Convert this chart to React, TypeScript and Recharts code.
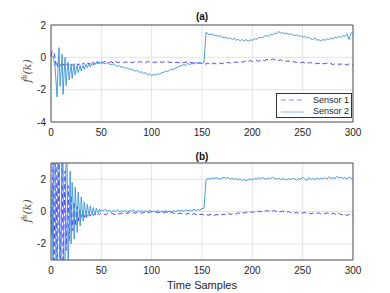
import React from 'react';
import { LineChart, Line, XAxis, YAxis, CartesianGrid, ReferenceArea, Legend } from 'recharts';

// sample indices: every sample for 0..50, every 2nd sample for 52..300
const K_HEAD = Array.from({ length: 51 }, (_, i) => i);
const K_TAIL = Array.from({ length: 125 }, (_, i) => 52 + 2 * i);
const K = [...K_HEAD, ...K_TAIL];

const X_TICKS = [0, 50, 100, 150, 200, 250, 300];
const Y_TICKS_A = [-4, -2, 0, 2];
const Y_TICKS_B = [-2, 0, 2];
const SERIES_NAMES = ['Sensor 1', 'Sensor 2'];

// (a) Sensor 1
const A1 = [
  0.1, 0.35, 0.4, 0.3, 0.0, -0.5, -0.3, -0.6, -0.4, -0.5,
  -0.45, -0.6, -0.4, -0.5, -0.45, -0.55, -0.4, -0.5, -0.45, -0.5,
  -0.4, -0.5, -0.45, -0.4, -0.5, -0.45, -0.4, -0.5, -0.4, -0.45,
  -0.4, -0.45, -0.35, -0.4, -0.45, -0.35, -0.4, -0.35, -0.45, -0.3,
  -0.4, -0.35, -0.3, -0.4, -0.3, -0.35, -0.25, -0.35, -0.3, -0.4, -0.3,
  -0.3, -0.25, -0.35, -0.3, -0.28, -0.35, -0.25, -0.32, -0.3, -0.27,
  -0.33, -0.28, -0.3, -0.25, -0.34, -0.3, -0.27, -0.32, -0.26, -0.3,
  -0.28, -0.33, -0.25, -0.3, -0.27, -0.33, -0.28, -0.3, -0.25, -0.32,
  -0.28, -0.3, -0.26, -0.33, -0.3, -0.28, -0.33, -0.3, -0.35, -0.3,
  -0.33, -0.28, -0.35, -0.3, -0.33, -0.36, -0.3, -0.35, -0.32, -0.4,
  -0.38, -0.42, -0.35, -0.45, -0.4, -0.35, -0.42, -0.38, -0.35, -0.4,
  -0.33, -0.38, -0.3, -0.36, -0.3, -0.33, -0.28, -0.32, -0.25, -0.3,
  -0.27, -0.22, -0.28, -0.2, -0.25, -0.22, -0.18, -0.24, -0.2, -0.15,
  -0.2, -0.15, -0.12, -0.18, -0.1, -0.15, -0.12, -0.2, -0.15, -0.22,
  -0.2, -0.25, -0.22, -0.3, -0.25, -0.28, -0.32, -0.27, -0.33, -0.3,
  -0.35, -0.3, -0.36, -0.32, -0.38, -0.35, -0.4, -0.36, -0.42, -0.38,
  -0.4, -0.36, -0.42, -0.38, -0.45, -0.4, -0.38, -0.44, -0.4, -0.46,
  -0.42, -0.48, -0.4, -0.47, -0.5,
];

// (a) Sensor 2
const A2 = [
  0.0, 0.05, 0.1, -0.2, -0.6, -1.5, -2.45, -0.5, 0.6, -1.8,
  -0.9, 0.2, -2.3, -1.0, 0.0, -1.75, -0.9, -0.3, -1.4, -0.9,
  -0.4, -1.3, -0.8, -0.45, -1.1, -0.75, -0.5, -0.95, -0.7, -0.5,
  -0.85, -0.6, -0.5, -0.75, -0.55, -0.45, -0.65, -0.5, -0.4, -0.6,
  -0.45, -0.4, -0.5, -0.35, -0.45, -0.3, -0.4, -0.3, -0.42, -0.32, -0.38,
  -0.35, -0.4, -0.33, -0.42, -0.45, -0.4, -0.5, -0.55, -0.52, -0.62,
  -0.6, -0.68, -0.65, -0.75, -0.72, -0.8, -0.85, -0.82, -0.92, -0.9,
  -1.0, -0.95, -1.08, -1.02, -1.15, -1.05, -1.1, -1.0, -1.05, -0.95,
  -0.92, -0.85, -0.88, -0.78, -0.72, -0.75, -0.65, -0.6, -0.55, -0.5,
  -0.45, -0.5, -0.38, -0.45, -0.35, -0.42, -0.32, -0.4, -0.35, -0.38,
  -0.3, 1.55, 1.45, 1.4, 1.45, 1.35, 1.38, 1.3, 1.33, 1.25,
  1.2, 1.25, 1.15, 1.2, 1.1, 1.18, 1.05, 1.12, 1.0, 1.1,
  1.02, 1.1, 1.0, 1.08, 1.05, 1.15, 1.12, 1.2, 1.25, 1.2,
  1.3, 1.35, 1.3, 1.42, 1.38, 1.5, 1.45, 1.6, 1.5, 1.55,
  1.45, 1.5, 1.42, 1.45, 1.4, 1.35, 1.38, 1.3, 1.35, 1.25,
  1.3, 1.2, 1.25, 1.15, 1.1, 1.2, 1.05, 1.1, 1.0, 1.1,
  1.05, 1.15, 1.1, 1.2, 1.12, 1.25, 1.2, 1.3, 1.22, 1.35,
  1.3, 1.45, 1.1, 1.5, 1.55,
];

// (b) Sensor 1
const B1 = [
  0.0, -1.5, 3.5, -4.0, 2.0, 4.0, -4.5, -1.0, 4.5, -4.0,
  -1.0, 3.5, -3.2, -0.5, 2.5, -2.4, -0.4, 1.6, -1.8, -0.3,
  1.0, -1.2, -0.2, 0.6, -0.9, -0.2, 0.3, -0.6, -0.2, 0.1,
  -0.45, -0.2, 0.0, -0.35, -0.2, -0.05, -0.3, -0.2, -0.1, -0.28,
  -0.18, -0.12, -0.25, -0.15, -0.2, -0.12, -0.22, -0.15, -0.2, -0.12, -0.18,
  -0.15, -0.2, -0.12, -0.18, -0.1, -0.16, -0.2, -0.12, -0.15, -0.1,
  -0.14, -0.08, -0.12, -0.05, -0.1, -0.06, -0.12, -0.04, -0.08, -0.1,
  -0.06, -0.02, -0.08, -0.04, 0.0, -0.06, -0.03, -0.08, -0.02, -0.05,
  -0.08, -0.03, -0.06, -0.1, -0.05, -0.12, -0.08, -0.14, -0.1, -0.15,
  -0.12, -0.18, -0.1, -0.16, -0.2, -0.12, -0.18, -0.14, -0.2, -0.15,
  -0.22, -0.16, -0.24, -0.18, -0.2, -0.26, -0.18, -0.22, -0.15, -0.2,
  -0.16, -0.22, -0.12, -0.18, -0.14, -0.1, -0.16, -0.08, -0.12, -0.06,
  -0.1, -0.04, -0.08, -0.02, -0.06, 0.0, -0.04, 0.02, -0.03, 0.04,
  0.0, 0.06, 0.02, 0.08, 0.03, 0.06, 0.0, 0.05, -0.02, 0.03,
  -0.03, -0.06, 0.0, -0.08, -0.04, -0.1, -0.05, -0.12, -0.08, -0.1,
  -0.06, -0.12, -0.08, -0.14, -0.1, -0.06, -0.12, -0.08, -0.15, -0.1,
  -0.14, -0.08, -0.12, -0.18, -0.1, -0.16, -0.2, -0.12, -0.18, -0.22,
  -0.15, -0.25, -0.18, -0.22, -0.28,
];

// (b) Sensor 2
const B2 = [
  0.0, 1.5, -4.0, 3.0, 4.0, -4.5, -3.0, 5.0, 4.0, -5.0,
  -3.0, 5.0, 3.0, -4.5, -3.5, 4.5, 3.0, -3.8, -1.0, 2.5,
  -2.0, 1.8, 0.5, -1.7, 1.5, 0.3, -1.3, 1.2, 0.2, -0.9,
  0.9, 0.15, -0.6, 0.6, 0.1, -0.4, 0.45, 0.05, -0.3, 0.35,
  0.0, -0.2, 0.25, 0.0, -0.15, 0.2, 0.0, -0.1, 0.15, 0.0, 0.1,
  0.05, 0.15, 0.0, 0.1, -0.05, 0.08, 0.0, 0.12, -0.03, 0.05,
  0.0, 0.08, -0.04, 0.06, 0.02, 0.1, -0.02, 0.05, 0.0, 0.07,
  -0.03, 0.05, 0.0, 0.08, -0.02, 0.04, 0.0, 0.06, -0.04, 0.03,
  0.0, 0.05, -0.02, 0.03, 0.0, 0.06, -0.03, 0.1, 0.02, 0.08,
  0.0, 0.12, 0.04, 0.1, 0.02, 0.15, 0.05, 0.12, 0.08, 0.18,
  0.2, 1.95, 2.05, 2.0, 2.08, 2.02, 2.1, 2.04, 2.0, 2.08,
  2.12, 2.05, 2.1, 2.0, 2.06, 1.98, 2.04, 1.95, 2.02, 1.92,
  1.98, 1.9, 1.96, 2.02, 1.95, 2.05, 2.0, 2.08, 2.02, 2.1,
  2.04, 2.0, 2.08, 2.02, 2.12, 2.05, 2.0, 2.06, 1.98, 2.04,
  2.0, 1.95, 2.02, 1.98, 2.05, 2.0, 1.96, 2.03, 2.0, 2.12,
  2.02, 1.92, 2.1, 1.98, 2.05, 1.95, 2.08, 2.0, 2.06, 2.02,
  2.1, 2.0, 2.15, 2.05, 2.1, 2.02, 2.18, 2.08, 2.12, 2.05,
  2.1, 2.0, 2.15, 2.05, 2.0,
];

const dataA = K.map((k, i) => ({ k, s1: A1[i], s2: A2[i] }));
const dataB = K.map((k, i) => ({ k, s1: B1[i], s2: B2[i] }));

const C1 = '#3535f2';
const C2 = '#3a93d4';
const FONT = '"Liberation Sans", Arial, Helvetica, sans-serif';
const TICK = { fontSize: 10, fill: '#262626', fontFamily: FONT };

const LegendBox = () => (
  <div
    style={{
      width: 74,
      height: 23,
      border: '1px solid #333',
      background: '#fff',
      fontFamily: FONT,
      fontSize: 9,
      color: '#262626',
      boxSizing: 'content-box',
    }}
  >
    {SERIES_NAMES.map((name, i) => (
      <div key={name} style={{ display: 'flex', alignItems: 'center', height: 11.5, marginTop: i === 0 ? 0.5 : 0 }}>
        <svg width={34} height={6} style={{ display: 'block' }}>
          <line
            x1={4}
            y1={3}
            x2={27}
            y2={3}
            stroke={i === 0 ? '#8f8ff8' : '#86bde6'}
            strokeWidth={1}
            strokeDasharray={i === 0 ? '5 3' : undefined}
          />
        </svg>
        <span style={{ lineHeight: '11px', marginLeft: 2 }}>{name}</span>
      </div>
    ))}
  </div>
);

const Panel = ({ data, domain, ticks, xHeight, top, height, legend }: any) => (
  <div style={{ position: 'absolute', left: 0, top, width: 390, height }}>
    <LineChart
      width={390}
      height={height}
      data={data}
      margin={{ top: top === 0 ? 25 : 23, right: 37, bottom: 0, left: 0 }}
    >
      <CartesianGrid stroke="#e3e3e3" strokeWidth={1} />
      <XAxis
        dataKey="k"
        type="number"
        domain={[0, 300]}
        ticks={X_TICKS}
        height={xHeight}
        axisLine={false}
        tickLine={false}
        tickSize={5}
        tickMargin={2}
        tick={TICK}
        interval={0}
      />
      <YAxis
        type="number"
        domain={domain}
        ticks={ticks}
        width={51}
        allowDataOverflow
        axisLine={false}
        tickLine={false}
        tickSize={3}
        tickMargin={2}
        tick={TICK}
        interval={0}
      />
      <Line
        type="linear"
        dataKey="s1"
        name={SERIES_NAMES[0]}
        stroke={C1}
        strokeWidth={0.9}
        strokeDasharray="5 3"
        dot={false}
        isAnimationActive={false}
      />
      <Line
        type="linear"
        dataKey="s2"
        name={SERIES_NAMES[1]}
        stroke={C2}
        strokeWidth={0.9}
        dot={false}
        isAnimationActive={false}
      />
      <ReferenceArea
        x1={0}
        x2={300}
        y1={domain[0]}
        y2={domain[1]}
        fill="none"
        stroke="#555"
        strokeWidth={1}
        ifOverflow="visible"
      />
      {legend && (
        <Legend
          layout="vertical"
          align="center"
          verticalAlign="middle"
          wrapperStyle={{ left: 276, top: 93, width: 76 }}
          content={() => <LegendBox />}
        />
      )}
    </LineChart>
  </div>
);

const YLabel = ({ cy }: { cy: number }) => (
  <div
    style={{
      position: 'absolute',
      left: 27,
      top: cy,
      transform: 'translate(-50%, -50%) rotate(-90deg)',
      fontFamily: '"DejaVu Serif", "Liberation Serif", serif',
      fontStyle: 'italic',
      fontSize: 11,
      color: '#555',
      whiteSpace: 'nowrap',
    }}
  >
    {'f̂'}
    <sup style={{ fontSize: 8 }}>s</sup>
    {'(k)'}
  </div>
);

const Title = ({ text, y }: { text: string; y: number }) => (
  <div
    style={{
      position: 'absolute',
      left: 202,
      top: y,
      transform: 'translate(-50%, -50%)',
      fontFamily: FONT,
      fontWeight: 'bold',
      fontSize: 10,
      color: '#111',
      whiteSpace: 'nowrap',
    }}
  >
    {text}
  </div>
);

export default function App() {
  return (
    <div style={{ position: 'absolute', left: 0, top: 0, width: 390, height: 293, background: '#fff', overflow: 'hidden' }}>
      <Panel data={dataA} domain={[-4, 2]} ticks={Y_TICKS_A} xHeight={23} top={0} height={145} legend />
      <Panel data={dataB} domain={[-3, 3]} ticks={Y_TICKS_B} xHeight={33} top={140} height={153} legend={false} />
      <Title text="(a)" y={16} />
      <Title text="(b)" y={156} />
      <YLabel cy={71} />
      <YLabel cy={211} />
      <div
        style={{
          position: 'absolute',
          left: 202,
          top: 285,
          transform: 'translate(-50%, -50%)',
          fontFamily: FONT,
          fontSize: 11,
          color: '#262626',
          whiteSpace: 'nowrap',
        }}
      >
        Time Samples
      </div>
    </div>
  );
}
